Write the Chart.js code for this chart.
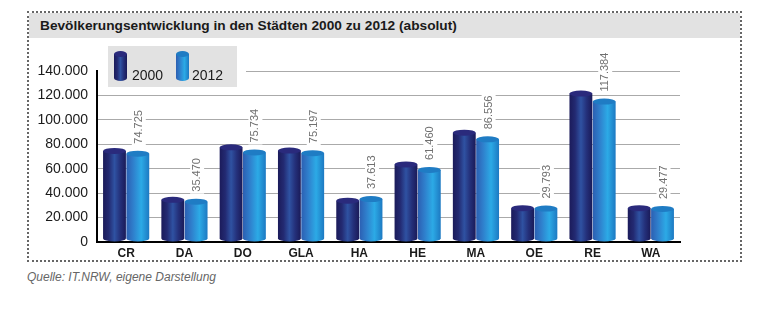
<!DOCTYPE html>
<html>
<head>
<meta charset="utf-8">
<script src="https://cdn.jsdelivr.net/npm/chart.js@4"></script>
<style>
  body { margin: 0; background: #fff; font-family: "Liberation Sans", Arial, sans-serif; }
  #wrap { position: relative; width: 771px; height: 331px; }
  #box { position: absolute; left: 27px; top: 11px; width: 711px; height: 247px; border: 2px dotted #666; }
  #title { position: absolute; left: 0; top: 0; right: 0; height: 25px; background: #e2e2e2;
           font-weight: bold; font-size: 13.7px; color: #1a1a1a; line-height: 25px; padding-left: 11px; }
  #source { position: absolute; left: 27px; top: 270px; font-size: 12px; font-style: italic; color: #666; }
  canvas { position: absolute; left: 0; top: 0; }
</style>
</head>
<body>
<div id="wrap">
  <div id="box"><div id="title">Bevölkerungsentwicklung in den Städten 2000 zu 2012 (absolut)</div></div>
  <div id="source">Quelle: IT.NRW, eigene Darstellung</div>
  <canvas id="chart" width="771" height="331"></canvas>
</div>
<script>
// Städte und Einwohnerzahlen
const cities = ['CR', 'DA', 'DO', 'GLA', 'HA', 'HE', 'MA', 'OE', 'RE', 'WA'];
const pop2000 = [77000, 37000, 80000, 77300, 36300, 66000, 92000, 30100, 124000, 30100];
const pop2012 = [74725, 35470, 75734, 75197, 37613, 61460, 86556, 29793, 117384, 29477];
const seriesLabels = ['2000', '2012'];

// cylinder look: gradient stops + cap colour per series
const barStops = [
    [[0, '#1b1b5a'], [0.25, '#232a72'], [0.5, '#2f52a2'], [0.75, '#24307a'], [1, '#1a1a58']],
    [[0, '#2c5fb2'], [0.3, '#2f7fcc'], [0.65, '#2caae6'], [1, '#1d79c2']],
];
const capColors = ['#2a2a7c', '#1f7cc4'];

function fmt(v) {
    return String(v).replace(/\B(?=(\d{3})+(?!\d))/g, '.');
}

function cylinder(ctx, cx, top, base, w, i) {
    const ry = 3, x0 = cx - w / 2;
    const g = ctx.createLinearGradient(x0, 0, x0 + w, 0);
    barStops[i].forEach(s => g.addColorStop(s[0], s[1]));
    ctx.beginPath();
    ctx.moveTo(x0, top + ry);
    ctx.lineTo(x0, base - ry);
    ctx.ellipse(cx, base - ry, w / 2, ry, 0, Math.PI, 0, true);
    ctx.lineTo(x0 + w, top + ry);
    ctx.closePath();
    ctx.fillStyle = g;
    ctx.fill();
    ctx.beginPath();
    ctx.ellipse(cx, top + ry, w / 2, ry, 0, 0, Math.PI * 2);
    ctx.fillStyle = capColors[i];
    ctx.fill();
}

const cylinderPlugin = {
    id: 'cylinders',
    beforeDatasetsDraw(chart) {
        const ctx = chart.ctx;
        chart.data.datasets.forEach((ds, i) => {
            chart.getDatasetMeta(i).data.forEach(bar => {
                cylinder(ctx, bar.x, bar.y, bar.base, bar.width, i);
            });
        });
        return false;
    },
    afterDraw(chart) {
        const ctx = chart.ctx;
        // value labels on the 2012 bars
        ctx.save();
        ctx.font = '11px "Liberation Sans", Arial, sans-serif';
        ctx.textBaseline = 'middle';
        ctx.textAlign = 'left';
        chart.getDatasetMeta(1).data.forEach((bar, j) => {
            const txt = fmt(pop2012[j]);
            const tw = ctx.measureText(txt).width;
            ctx.save();
            ctx.translate(bar.x + 1, bar.y - 7);
            ctx.rotate(-Math.PI / 2);
            ctx.fillStyle = '#fff';
            ctx.fillRect(-2, -7, tw + 4, 14);
            ctx.fillStyle = '#707070';
            ctx.fillText(txt, 0, 0);
            ctx.restore();
        });
        ctx.restore();

        // legend box
        ctx.save();
        ctx.fillStyle = '#fff';
        ctx.fillRect(chart.chartArea.left + 1, 66, 245 - chart.chartArea.left, 10);
        ctx.fillStyle = '#e2e2e2';
        ctx.fillRect(108, 46, 129, 41);
        ctx.font = '14px "Liberation Sans", Arial, sans-serif';
        ctx.textBaseline = 'alphabetic';
        [[114, 132], [176, 192]].forEach((p, i) => {
            cylinder(ctx, p[0] + 6.5, 51, 81, 13, i);
            ctx.fillStyle = '#1a1a1a';
            ctx.fillText(seriesLabels[i], p[1], 80);
        });
        ctx.restore();
    }
};

new Chart(document.getElementById('chart'), {
    type: 'bar',
    data: {
        labels: cities,
        datasets: [
            { label: seriesLabels[0], data: pop2000, backgroundColor: '#23286e' },
            { label: seriesLabels[1], data: pop2012, backgroundColor: '#2a9ad8' },
        ]
    },
    options: {
        responsive: false,
        animation: false,
        categoryPercentage: 0.8,
        barPercentage: 0.98,
        layout: { padding: { top: 71, right: 91, left: 0, bottom: 0 } },
        plugins: { legend: { display: false }, tooltip: { enabled: false } },
        scales: {
            x: {
                grid: { display: false, drawTicks: false },
                border: { color: '#000', width: 2 },
                ticks: { color: '#1a1a1a', padding: 4, font: { family: '"Liberation Sans", Arial, sans-serif', size: 12, weight: 'bold' } },
                afterFit(scale) { scale.height = 89; }
            },
            y: {
                min: 0,
                max: 140000,
                grid: { color: '#aaaaaa', drawTicks: false },
                border: { color: '#000', width: 2 },
                ticks: {
                    stepSize: 20000,
                    padding: 9,
                    color: '#1a1a1a',
                    font: { family: '"Liberation Sans", Arial, sans-serif', size: 14 },
                    callback: v => fmt(v)
                },
                afterFit(scale) { scale.width = 97; }
            }
        }
    },
    plugins: [cylinderPlugin]
});
</script>
</body>
</html>
